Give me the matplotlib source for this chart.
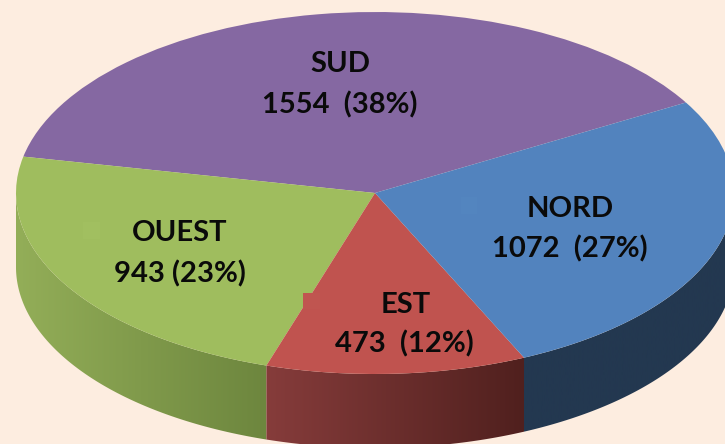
import numpy as np
import matplotlib
matplotlib.use("Agg")
import matplotlib.pyplot as plt
from matplotlib.colors import LinearSegmentedColormap
from matplotlib.patches import Polygon, Rectangle

categories = ["SUD", "OUEST", "EST", "NORD"]
values = [1554, 943, 473, 1072]
value_labels = ["1554  (38%)", "943 (23%)", "473  (12%)", "1072  (27%)"]
top_colors = ["#8568A2", "#9FBD5E", "#C0534F", "#5283BE"]
side_colors = [("#5A4570", "#5A4570"), ("#93AE58", "#6D863E"),
               ("#863C3B", "#50201E"), ("#233850", "#233850")]
name_pos = [(340, 64), (180, 233), (406, 305), (570, 209)]
value_pos = [(340, 105), (180, 274), (404, 344), (570, 249)]

W, H = 725, 444
CX, CY, A, B, DEPTH = 375, 193, 359, 181, 74
BG = "#FDEDE0"


def dx(px):
    return (px - CX) / A


def dy(py):
    return (CY - py) / B


fig = plt.figure(figsize=(W / 100, H / 100), dpi=100, facecolor=BG)
ax = fig.add_axes([0, 0, 1, 1])
ax.set_facecolor(BG)

xlim = (dx(0), dx(W))
ylim = (dy(H), dy(0))
depth = DEPTH / B

# side wall of every slice, derived from the slice's angular span
start = 30.0
total = sum(values)
theta = start
for val, cols in zip(values, side_colors):
    span = 360.0 * val / total
    t0, t1 = max(theta, 180.0), min(theta + span, 360.0)
    theta += span
    if t1 <= t0:
        continue
    ang = np.radians(np.linspace(t0, t1, 200))
    xs, ys = np.cos(ang), np.sin(ang)
    poly = np.vstack([np.column_stack([xs, ys]),
                      np.column_stack([xs[::-1], ys[::-1] - depth])])
    cmap = LinearSegmentedColormap.from_list("w", list(cols))
    img = ax.imshow(np.linspace(0, 1, 256).reshape(1, -1), cmap=cmap, aspect="auto",
                    extent=(xs.min(), xs.max(), -2, 2), zorder=1)
    img.set_clip_path(Polygon(poly, transform=ax.transData))

wedges, _ = ax.pie(values, colors=top_colors, startangle=start, radius=1.0,
                   center=(0, 0), frame=False, wedgeprops={"linewidth": 0, "zorder": 2})

# faint leftover marker squares of the original labels
for (x0, y0, w, h, c) in [(83, 222, 17, 17, "#A1BF60"), (461, 197, 16, 17, "#5385BF"),
                          (303, 293, 17, 16, "#C05550")]:
    ax.add_patch(Rectangle((dx(x0), dy(y0 + h)), w / A, h / B, color=c, lw=0, zorder=3))

ax.set_aspect("auto")
ax.set_xlim(*xlim)
ax.set_ylim(*ylim)
ax.axis("off")

font = dict(family="Lato", fontweight="bold", fontsize=21, color="#0A0A0A",
            ha="center", va="center", zorder=5)
for cat, lab, np_, vp in zip(categories, value_labels, name_pos, value_pos):
    ax.text(dx(np_[0]), dy(np_[1]), cat, **font)
    ax.text(dx(vp[0]), dy(vp[1]), lab, **font)

fig.savefig("out.png", dpi=100, facecolor=BG)
